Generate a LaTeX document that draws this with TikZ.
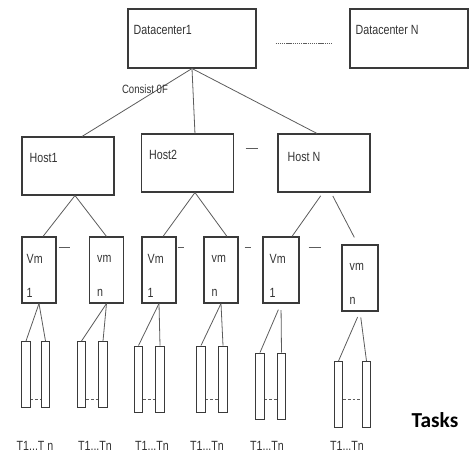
\documentclass[tikz,border=0pt]{standalone}
\usepackage{fontspec}
\setmainfont{Liberation Sans}
\newfontfamily\narrowfont[FakeStretch=0.8]{Liberation Sans}
\newfontfamily\headfont{Carlito}
\usetikzlibrary{positioning, calc}
\usepackage{xcolor}
\definecolor{dcline}{HTML}{3A3A3A}
\definecolor{dcwire}{HTML}{5C5C5C}
\definecolor{dctext}{HTML}{333333}

\begin{document}
\begin{tikzpicture}[x=0.75pt, y=-0.75pt,
    box/.style={draw=dcline, line width=0.8pt, inner sep=0pt},
    dcbox/.style={box, minimum width=96pt, minimum height=44.25pt},
    hostbox/.style={box, minimum width=69pt, minimum height=43.5pt},
    vmbox/.style={box, minimum width=25.5pt, minimum height=49.5pt},
    taskbar/.style={box, line width=0.7pt, minimum width=6.5pt, minimum height=49.5pt},
    boxlbl/.style={anchor=west, inner sep=0pt, text=dctext, font=\narrowfont, align=left},
    wire/.style={draw=dcwire, line width=0.6pt},
    gap/.style={draw=dcwire, line width=0.6pt},
    tlbl/.style={text=dctext, font=\narrowfont, inner sep=0pt}]
  \useasboundingbox (0,0) rectangle (469,452);

  % datacenters
  \node[dcbox, label={[boxlbl, xshift=4.5pt, yshift=6.4pt]west:Datacenter1}] (dc1) at (192,38.5) {};
  \node[dcbox, minimum width=88.5pt, label={[boxlbl, xshift=4.5pt, yshift=6.4pt]west:Datacenter N}] (dcN) at (409,38.5) {};
  \draw[gap, dash pattern=on 1pt off 0.6pt, shorten <=14.25pt, shorten >=13.5pt]
    ([yshift=-3.4pt]dc1.east) -- ([yshift=-3.4pt]dcN.west);

  % hosts
  \node[hostbox, label={[boxlbl, xshift=6pt, yshift=6pt]west:Host1}] (host1) at (68,166) {};
  \node[hostbox, label={[boxlbl, xshift=6pt, yshift=6pt]west:Host2}] (host2) at (187.5,163) {};
  \node[hostbox, label={[boxlbl, xshift=7.5pt, yshift=4.5pt]west:Host N}] (hostN) at (324,163) {};
  \draw[gap, shorten <=8.6pt, shorten >=14.25pt] ([yshift=11.25pt]host2.east) -- ([yshift=11.25pt]hostN.west);

  \draw[wire] (dc1.south) -- ([xshift=10.5pt]host1.north)
    node[tlbl, font=\narrowfont\small, pos=0.3, xshift=-10.5pt] {Consist 0F};
  \draw[wire] (dc1.south) -- ([xshift=5.6pt]host2.north);
  \draw[wire] (dc1.south) -- ([xshift=-5.25pt]hostN.north);

  % virtual machines
  \node[vmbox, label={[boxlbl, xshift=3.75pt, yshift=-4.5pt]west:{Vm\\[14pt]1}}] (vma1) at (39,270) {};
  \node[vmbox, label={[boxlbl, xshift=6pt, yshift=-4.5pt]west:{vm\\[14pt]n}}] (vman) at (106.5,270) {};
  \node[vmbox, label={[boxlbl, xshift=4.5pt, yshift=-4.5pt]west:{Vm\\[14pt]1}}] (vmb1) at (159,270) {};
  \node[vmbox, label={[boxlbl, xshift=6pt, yshift=-4.5pt]west:{vm\\[14pt]n}}] (vmbn) at (221,270) {};
  \node[vmbox, minimum width=27pt, label={[boxlbl, xshift=5.25pt, yshift=-4.5pt]west:{Vm\\[14pt]1}}] (vmc1) at (281,270) {};
  \node[vmbox, minimum width=27pt, label={[boxlbl, xshift=6pt, yshift=-4.5pt]west:{vm\\[14pt]n}}] (vmcn) at (360,278) {};

  \draw[wire] ([xshift=5.25pt]host1.south) -- ([xshift=3pt]vma1.north);
  \draw[wire] ([xshift=5.25pt]host1.south) -- (vman.north);
  \draw[wire] ([xshift=5.6pt]host2.south) -- ([xshift=3pt]vmb1.north);
  \draw[wire] ([xshift=5.6pt]host2.south) -- ([xshift=4.5pt]vmbn.north);
  \draw[wire, shorten <=3pt] ([xshift=-0.75pt]hostN.south) -- ([xshift=8.25pt]vmc1.north);
  \draw[wire, shorten <=3pt, shorten >=6pt] ([xshift=5.25pt]hostN.south) -- ([xshift=-1.5pt]vmcn.north);

  \draw[gap, shorten <=1.5pt, shorten >=14.25pt] ([yshift=17.25pt]vma1.east) -- ([yshift=17.25pt]vman.west);
  \draw[gap, shorten <=0.75pt, shorten >=14.25pt] ([yshift=17.25pt]vmb1.east) -- ([yshift=17.25pt]vmbn.west);
  \draw[gap, shorten <=4.5pt, shorten >=8.25pt] ([yshift=17.25pt]vmbn.east) -- ([yshift=17.25pt]vmc1.west);
  \draw[gap, shorten <=6.75pt, shorten >=15pt] ([yshift=17.25pt]vmc1.east) -- ([yshift=23.25pt]vmcn.west);

  % tasks
  \foreach \k/\vmname/\xa/\xb/\yc/\sh/\lx/\txt in {
      1/vma1/26/45.5/374.5/0/35/{T1...T n}, 2/vman/81.5/103/374.5/0/95/{T1...Tn},
      3/vmb1/138.5/160/379/0/152/{T1...Tn}, 4/vmbn/201/223/379/0/207/{T1...Tn},
      5/vmc1/260/281.5/386/5/267/{T1...Tn}, 6/vmcn/338.5/366.5/394.5/4.5/347/{T1...Tn}}{
    \node[taskbar] (ta\k) at (\xa,\yc) {};
    \node[taskbar] (tb\k) at (\xb,\yc) {};
    \draw[wire, shorten <=\sh pt] (\vmname.south) -- (ta\k.north);
    \draw[wire, shorten <=\sh pt] (\vmname.south) -- (tb\k.north);
    \draw[gap, dash pattern=on 2pt off 1.5pt] (ta\k.east |- 0,399) -- (tb\k.west |- 0,399);
    \node[tlbl] (tl\k) at (\lx,446) {\txt};
  }

  \node[font=\headfont\bfseries\fontsize{16}{19}\selectfont, inner sep=0pt] (tasks) at (435,420) {Tasks};
\end{tikzpicture}
\end{document}
